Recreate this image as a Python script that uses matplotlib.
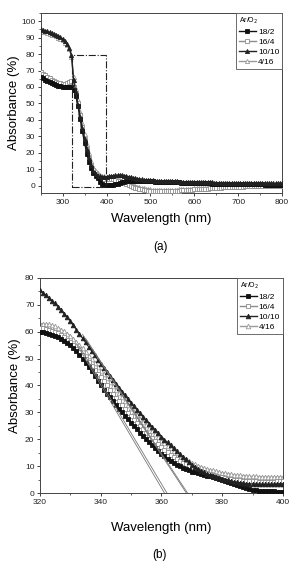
import matplotlib
matplotlib.use("Agg")
import matplotlib.pyplot as plt
import numpy as np
from matplotlib.patches import Rectangle
from matplotlib.ticker import MultipleLocator

plt.rcParams["font.family"] = ["Liberation Sans", "DejaVu Sans"]

# ---------------------------------------------------------------------
#  Data
# ---------------------------------------------------------------------
labels = ["18/2", "16/4", "10/10", "4/16"]

# (a) full spectrum, 5 nm steps
wl_a = np.arange(250, 805, 5)
abs_a_18_2 = [
    66.0, 65.2, 64.5, 63.8, 63.2, 62.6, 62.0, 61.4, 60.8, 60.4, 60.1, 60.0, 60.0, 60.2, 60.0,
    58.0, 54.5, 48.5, 40.5, 33.0, 26.0, 19.5, 14.5, 10.5, 8.0, 6.2, 4.5, 2.5, 1.0, 0.4, 0.2,
    0.2, 0.3, 0.5, 0.8, 1.2, 1.6, 2.0, 2.4, 2.7, 2.9, 3.0, 3.0, 3.0, 2.9, 2.9, 2.8, 2.8, 2.7, 2.7, 2.6,
    2.6, 2.5, 2.5, 2.4, 2.4, 2.3, 2.3, 2.2, 2.2, 2.1,
    2.1, 2.0, 2.0, 1.9, 1.9, 1.8, 1.8, 1.7, 1.7, 1.6,
    1.6, 1.5, 1.5, 1.5, 1.4, 1.4, 1.4, 1.3, 1.3, 1.3,
    1.2, 1.2, 1.2, 1.1, 1.1, 1.1, 1.0, 1.0, 1.0, 1.0,
    0.9, 0.9, 0.9, 0.9, 0.9, 0.8, 0.8, 0.8, 0.8, 0.8,
    0.8, 0.7, 0.7, 0.7, 0.7, 0.7, 0.7, 0.7, 0.7, 0.7,
]
abs_a_16_4 = [
    69.0, 68.0, 67.0, 66.0, 65.2, 64.5, 63.8, 63.2, 62.6, 62.2, 62.0, 62.0, 62.3, 63.0, 63.5,
    60.0, 56.0, 50.0, 43.0, 35.5, 28.5, 22.5, 17.0, 12.5, 9.5, 7.3, 5.8, 4.8, 4.3, 4.2, 4.2,
    4.1, 4.0, 3.8, 3.5, 3.1, 2.6, 2.1, 1.6, 1.0, 0.4, -0.2, -0.7, -1.2, -1.6, -2.0, -2.3, -2.6, -2.8, -3.0, -3.1,
    -3.2, -3.3, -3.3, -3.4, -3.4, -3.4, -3.4, -3.3, -3.3, -3.2,
    -3.2, -3.1, -3.0, -2.9, -2.8, -2.7, -2.6, -2.5, -2.4, -2.3,
    -2.2, -2.1, -2.0, -1.9, -1.8, -1.7, -1.6, -1.5, -1.4, -1.3,
    -1.2, -1.1, -1.0, -1.0, -0.9, -0.8, -0.8, -0.7, -0.6, -0.6,
    -0.5, -0.5, -0.4, -0.4, -0.3, -0.3, -0.3, -0.2, -0.2, -0.2,
    -0.1, -0.1, -0.1, -0.1, 0.0, 0.0, 0.0, 0.0, 0.0, 0.0,
]
abs_a_10_10 = [
    95.0, 94.6, 94.2, 93.8, 93.3, 92.8, 92.3, 91.7, 91.0, 90.2, 89.3, 88.0, 86.3, 83.8, 79.5,
    64.0, 57.0, 49.0, 42.0, 35.0, 28.5, 22.5, 17.0, 12.5, 9.0, 7.0, 6.0, 5.6, 5.4, 5.4, 5.5,
    5.7, 5.9, 6.1, 6.3, 6.4, 6.4, 6.3, 6.1, 5.8, 5.5, 5.2, 4.9, 4.6, 4.3, 4.1, 3.9, 3.7, 3.5, 3.4, 3.3,
    3.2, 3.1, 3.05, 3.0, 2.95, 2.9, 2.85, 2.8, 2.75, 2.7,
    2.65, 2.6, 2.55, 2.5, 2.45, 2.4, 2.35, 2.3, 2.25, 2.2,
    2.15, 2.1, 2.1, 2.05, 2.0, 2.0, 1.95, 1.95, 1.9, 1.9,
    1.85, 1.85, 1.8, 1.8, 1.8, 1.75, 1.75, 1.7, 1.7, 1.7,
    1.65, 1.65, 1.65, 1.6, 1.6, 1.6, 1.6, 1.55, 1.55, 1.55,
    1.55, 1.5, 1.5, 1.5, 1.5, 1.5, 1.45, 1.45, 1.45, 1.45,
]
abs_a_4_16 = [
    94.0, 93.6, 93.2, 92.8, 92.3, 91.8, 91.3, 90.7, 90.0, 89.2, 88.3, 87.0, 85.3, 82.8, 78.5,
    66.0, 59.0, 52.0, 45.0, 38.0, 31.5, 25.5, 20.0, 15.0, 11.5, 9.0, 7.5, 6.5, 6.0, 5.7, 5.5,
    5.3, 5.0, 4.7, 4.4, 4.0, 3.5, 3.0, 2.5, 2.0, 1.5, 1.0, 0.5, 0.0, -0.5, -0.9, -1.3, -1.6, -1.9, -2.1, -2.3,
    -2.4, -2.5, -2.5, -2.6, -2.6, -2.6, -2.6, -2.6, -2.5, -2.5,
    -2.4, -2.4, -2.3, -2.2, -2.1, -2.0, -1.9, -1.8, -1.7, -1.6,
    -1.5, -1.4, -1.3, -1.2, -1.1, -1.0, -0.9, -0.8, -0.7, -0.6,
    -0.5, -0.4, -0.4, -0.3, -0.2, -0.2, -0.1, -0.1, 0.0, 0.0,
    0.1, 0.1, 0.1, 0.2, 0.2, 0.2, 0.3, 0.3, 0.3, 0.3,
    0.4, 0.4, 0.4, 0.4, 0.4, 0.5, 0.5, 0.5, 0.5, 0.5,
]

# zoom box drawn on (a): wavelength range and absorbance range
zoom_wl = (321, 398)
zoom_abs = (-1, 79.5)

# (b) absorption edge, 1 nm steps
wl_b = np.arange(320, 401)
abs_b_18_2 = [
    60.0, 59.8, 59.5, 59.2, 58.9, 58.5, 58.0, 57.4, 56.7, 55.9,
    55.0, 53.9, 52.7, 51.4, 50.0, 48.5, 46.9, 45.3, 43.6, 41.8,
    40.0, 38.5, 37.0, 35.6, 34.2, 32.8, 31.4, 30.0, 28.7, 27.4,
    26.1, 24.9, 23.7, 22.4, 21.2, 20.0, 18.9, 17.8, 16.7, 15.6,
    14.6, 13.7, 12.8, 12.0, 11.2, 10.5, 9.9, 9.3, 8.8, 8.4,
    8.0, 7.7, 7.4, 7.1, 6.8, 6.5, 6.2, 5.9, 5.6, 5.3,
    5.0, 4.6, 4.2, 3.8, 3.4, 3.0, 2.6, 2.2, 1.9, 1.5,
    1.2, 1.0, 0.9, 0.8, 0.7, 0.7, 0.6, 0.6, 0.5, 0.5,
    0.5,
]
abs_b_16_4 = [
    61.5, 61.3, 61.0, 60.7, 60.4, 60.0, 59.4, 58.7, 57.9, 57.0,
    56.0, 54.9, 53.7, 52.5, 51.3, 50.0, 48.6, 47.2, 45.8, 44.4,
    43.0, 41.5, 40.0, 38.5, 37.0, 35.5, 34.1, 32.7, 31.3, 29.9,
    28.5, 27.3, 26.1, 24.9, 23.7, 22.5, 21.4, 20.3, 19.2, 18.1,
    17.0, 16.1, 15.2, 14.3, 13.4, 12.5, 11.9, 11.3, 10.7, 10.1,
    9.5, 9.0, 8.6, 8.1, 7.7, 7.3, 7.0, 6.7, 6.4, 6.1,
    5.8, 5.6, 5.4, 5.2, 5.0, 4.8, 4.7, 4.6, 4.5, 4.4,
    4.3, 4.3, 4.2, 4.2, 4.2, 4.2, 4.2, 4.2, 4.3, 4.3,
    4.3,
]
abs_b_10_10 = [
    75.5, 74.5, 73.5, 72.5, 71.5, 70.5, 69.3, 68.0, 66.7, 65.4,
    64.0, 62.4, 60.8, 59.2, 57.6, 56.0, 54.4, 52.8, 51.2, 49.6,
    48.0, 46.5, 45.0, 43.5, 42.0, 40.5, 39.1, 37.7, 36.3, 34.9,
    33.5, 32.2, 30.9, 29.6, 28.3, 27.0, 25.8, 24.6, 23.4, 22.2,
    21.0, 19.9, 18.8, 17.7, 16.6, 15.5, 14.5, 13.5, 12.5, 11.5,
    10.5, 9.7, 9.0, 8.3, 7.7, 7.2, 6.8, 6.4, 6.0, 5.6,
    5.2, 4.9, 4.7, 4.4, 4.2, 4.0, 3.8, 3.7, 3.5, 3.4,
    3.3, 3.3, 3.2, 3.2, 3.2, 3.2, 3.2, 3.3, 3.3, 3.4,
    3.4,
]
abs_b_4_16 = [
    63.0, 63.0, 62.9, 62.7, 62.4, 62.0, 61.4, 60.8, 60.1, 59.3,
    58.5, 57.4, 56.2, 55.0, 53.8, 52.5, 51.1, 49.7, 48.3, 46.9,
    45.5, 44.1, 42.7, 41.3, 39.9, 38.5, 37.1, 35.7, 34.3, 32.9,
    31.5, 30.2, 29.0, 27.7, 26.5, 25.3, 24.1, 23.0, 21.8, 20.7,
    19.5, 18.5, 17.6, 16.6, 15.7, 14.8, 14.0, 13.3, 12.6, 11.9,
    11.2, 10.7, 10.2, 9.8, 9.4, 9.0, 8.7, 8.4, 8.1, 7.8,
    7.6, 7.4, 7.2, 7.0, 6.8, 6.7, 6.6, 6.5, 6.4, 6.3,
    6.2, 6.2, 6.1, 6.1, 6.0, 6.0, 6.0, 6.0, 6.0, 6.0,
    6.0,
]

# tangent (band-edge) lines on (b): start point and x-intercept
tan_x0 = [332, 333, 334, 335]
tan_y0 = [55.5, 54.5, 59.0, 57.5]
tan_x_icpt = [361.0, 361.8, 368.2, 368.6]

# ---------------------------------------------------------------------
#  Styles
# ---------------------------------------------------------------------
styles = [
    dict(color="#111111", marker="s", mfc="#111111", mec="#111111", zorder=4),
    dict(color="#8c8c8c", marker="s", mfc="white", mec="#8c8c8c", zorder=3),
    dict(color="#222222", marker="^", mfc="#222222", mec="#222222", zorder=5),
    dict(color="#9a9a9a", marker="^", mfc="white", mec="#9a9a9a", zorder=2),
]


def style_axes(ax):
    for sp in ax.spines.values():
        sp.set_color("#444444")
        sp.set_linewidth(0.7)
    ax.tick_params(which="major", direction="out", length=2.5, width=0.6,
                   labelsize=6, pad=1.5, colors="#222222")
    ax.tick_params(which="minor", direction="out", length=1.5, width=0.5,
                   colors="#222222")


def add_legend(ax):
    leg = ax.legend(loc="upper right", borderaxespad=0, fontsize=6,
                    title="Ar/O$_2$", title_fontsize=5, fancybox=False,
                    edgecolor="#555555", handlelength=2.0, handletextpad=0.25,
                    labelspacing=0.25, borderpad=0.35, alignment="left",
                    framealpha=1)
    leg.get_frame().set_linewidth(0.6)
    for line in leg.get_lines():
        line.set_linewidth(1.0)
    return leg


fig = plt.figure(figsize=(2.93, 5.63), dpi=100)

# ---------------------------------------------------------------------
#  (a)
# ---------------------------------------------------------------------
ax1 = fig.add_axes([0.139, 0.657, 0.824, 0.320])
series_a = [abs_a_18_2, abs_a_16_4, abs_a_10_10, abs_a_4_16]
for lab, vals, st in zip(labels, series_a, styles):
    ax1.plot(wl_a, vals, lw=1.0, ms=3.0, mew=0.6, label=lab, **st)
ax1.add_patch(Rectangle((zoom_wl[0], zoom_abs[0]), zoom_wl[1] - zoom_wl[0],
                        zoom_abs[1] - zoom_abs[0], fill=False, ec="#222222",
                        lw=0.8, ls="-.", zorder=6))
ax1.set_xlim(250, 800)
ax1.set_ylim(-4.5, 105)
ax1.xaxis.set_major_locator(MultipleLocator(100))
ax1.xaxis.set_minor_locator(MultipleLocator(50))
ax1.yaxis.set_major_locator(MultipleLocator(10))
ax1.yaxis.set_minor_locator(MultipleLocator(5))
ax1.set_xticks([300, 400, 500, 600, 700, 800])
style_axes(ax1)
ax1.set_xlabel("Wavelength (nm)", fontsize=9.5, labelpad=5)
ax1.set_ylabel("Absorbance (%)", fontsize=9.5, labelpad=1)
add_legend(ax1)
fig.text(0.548, 0.561, "(a)", ha="center", va="center", fontsize=8.5)

# ---------------------------------------------------------------------
#  (b)
# ---------------------------------------------------------------------
ax2 = fig.add_axes([0.1365, 0.1243, 0.829, 0.382])
series_b = [abs_b_18_2, abs_b_16_4, abs_b_10_10, abs_b_4_16]
for lab, vals, st in zip(labels, series_b, styles):
    ax2.plot(wl_b, vals, lw=0.8, ms=3.3, mew=0.6, label=lab, **st)
for x0, y0, xi in zip(tan_x0, tan_y0, tan_x_icpt):
    ax2.plot([x0, xi], [y0, 0], color="#777777", lw=0.6, zorder=6)
ax2.set_xlim(320, 400)
ax2.set_ylim(0, 80)
ax2.xaxis.set_major_locator(MultipleLocator(20))
ax2.xaxis.set_minor_locator(MultipleLocator(10))
ax2.yaxis.set_major_locator(MultipleLocator(10))
ax2.yaxis.set_minor_locator(MultipleLocator(5))
style_axes(ax2)
ax2.set_xlabel("Wavelength (nm)", fontsize=9.5, labelpad=12)
ax2.set_ylabel("Absorbance (%)", fontsize=9.5, labelpad=3)
add_legend(ax2)
fig.text(0.546, 0.0142, "(b)", ha="center", va="center", fontsize=8.5)

fig.savefig("out.png", dpi=100)
